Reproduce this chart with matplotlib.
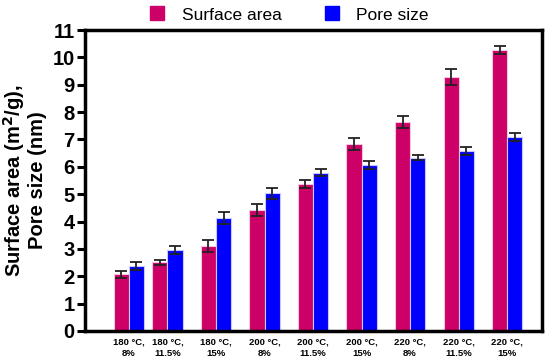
import numpy as np
import matplotlib
matplotlib.use("Agg")
import matplotlib.pyplot as plt
from matplotlib.lines import Line2D

categories = ["180 °C,\n8%", "180 °C,\n11.5%", "180 °C,\n15%",
              "200 °C,\n8%", "200 °C,\n11.5%", "200 °C,\n15%",
              "220 °C,\n8%", "220 °C,\n11.5%", "220 °C,\n15%"]
surface_area = [2.07, 2.51, 3.11, 4.43, 5.38, 6.84, 7.64, 9.27, 10.28]
surface_err = [0.14, 0.08, 0.22, 0.22, 0.14, 0.22, 0.22, 0.29, 0.14]
pore_size = [2.37, 2.97, 4.12, 5.03, 5.79, 6.08, 6.33, 6.57, 7.08]
pore_err = [0.15, 0.14, 0.22, 0.21, 0.13, 0.15, 0.09, 0.15, 0.15]
yticks = list(range(0, 12))

plt.rcParams['font.family'] = ['Liberation Sans', 'DejaVu Sans']

fig = plt.figure(figsize=(5.5, 3.64), dpi=100)
ax = fig.add_axes([85/550, 1-331/364, (542-85)/550, (331-30)/364])

x = np.arange(len(categories), dtype=float)
x[0] += 0.2
w = 0.31
pink = '#cc0066'
blue = '#0000ff'
ax.bar(x - w/2, surface_area, w, color=pink, edgecolor='#f2c6dc', linewidth=0.8,
       yerr=surface_err, error_kw=dict(ecolor='#222222', elinewidth=1.3, capsize=4.5, capthick=1.3), zorder=2)
ax.bar(x + w/2, pore_size, w, color=blue, edgecolor='#c8c8ff', linewidth=0.8,
       yerr=pore_err, error_kw=dict(ecolor='#222222', elinewidth=1.3, capsize=4.5, capthick=1.3), zorder=2)

ax.set_xlim(-0.70, 8.72)
ax.set_ylim(0, 11)
ax.set_yticks(yticks)
ax.set_yticklabels([str(t) for t in yticks], fontsize=14.5, fontweight='bold')
ax.set_xticks(x)
ax.set_xticklabels(categories, fontsize=6.8, fontweight='bold', linespacing=1.25)
ax.tick_params(axis='x', length=0, pad=5)
ax.tick_params(axis='y', length=6, width=2.2, pad=1.5)
for s in ax.spines.values():
    s.set_linewidth(2.5)
    s.set_color('black')

ax.set_ylabel("Surface area (m$\\mathbf{^2}$/g),\nPore size (nm)", fontsize=14.5,
              fontweight='bold', labelpad=4, linespacing=1.05)

handles = [Line2D([], [], marker='s', linestyle='none', markersize=9.5, color=pink),
           Line2D([], [], marker='s', linestyle='none', markersize=9.5, color=blue)]
fig.legend(handles, ["Surface area", "Pore size"], loc='center',
           bbox_to_anchor=(0.525, 1-15/364), ncol=2, frameon=False, fontsize=12.5,
           handlelength=1.0, handletextpad=0.9, columnspacing=2.4)

fig.savefig("out.png", dpi=100)
